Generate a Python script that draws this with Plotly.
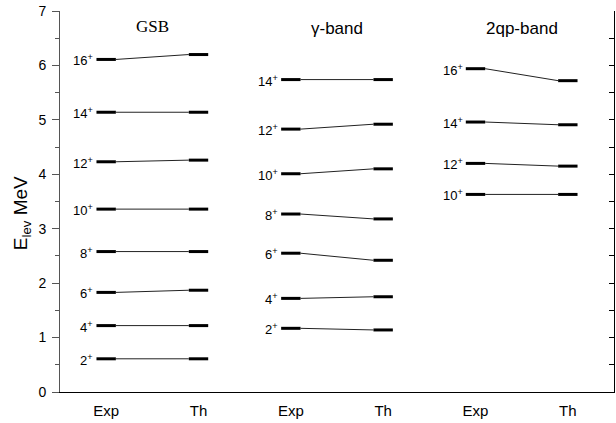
import plotly.graph_objects as go

# ---- data (MeV) ----
spins_gsb = ["2", "4", "6", "8", "10", "12", "14", "16"]
gsb_exp = [0.61, 1.22, 1.83, 2.58, 3.36, 4.23, 5.14, 6.11]
gsb_th = [0.61, 1.22, 1.87, 2.58, 3.36, 4.26, 5.14, 6.20]

spins_gam = ["2", "4", "6", "8", "10", "12", "14"]
gam_exp = [1.17, 1.72, 2.55, 3.27, 4.01, 4.83, 5.74]
gam_th = [1.14, 1.75, 2.42, 3.18, 4.10, 4.92, 5.74]

spins_qp = ["10", "12", "14", "16"]
qp_exp = [3.63, 4.20, 4.96, 5.94]
qp_th = [3.63, 4.15, 4.91, 5.72]

band_names = ["GSB", "γ-band", "2qp-band"]
x_labels = ["Exp", "Th", "Exp", "Th", "Exp", "Th"]

bands = [
    (1, spins_gsb, gsb_exp, gsb_th),
    (3, spins_gam, gam_exp, gam_th),
    (5, spins_qp, qp_exp, qp_th),
]

HW = 0.105  # half width of level bars

fig = go.Figure()
ann = []
for (xe, spins, ex, th) in bands:
    xt = xe + 1
    bx, by, cx, cy = [], [], [], []
    for s, e, t in zip(spins, ex, th):
        bx += [xe - HW, xe + HW, None, xt - HW, xt + HW, None]
        by += [e, e, None, t, t, None]
        cx += [xe + HW, xt - HW, None]
        cy += [e, t, None]
        ann.append(dict(x=xe - HW, y=e, xref="x", yref="y", text=f"{s}<sup>+</sup>",
                        showarrow=False, xanchor="right", yanchor="middle", xshift=-1, yshift=-1,
                        font=dict(family="Liberation Sans, Arial", size=13, color="black")))
    fig.add_trace(go.Scatter(x=cx, y=cy, mode="lines", line=dict(color="#222", width=1),
                             hoverinfo="skip", showlegend=False))
    fig.add_trace(go.Scatter(x=bx, y=by, mode="lines", line=dict(color="black", width=3),
                             hoverinfo="skip", showlegend=False))

# invisible trace for right axis
fig.add_trace(go.Scatter(x=[1], y=[0], yaxis="y2", mode="markers", marker=dict(opacity=0),
                         hoverinfo="skip", showlegend=False))

# band titles
title_pos = [(1.5, 6.72, "Liberation Serif, Times New Roman", 17),
             (3.5, 6.68, "Liberation Sans, Arial", 17),
             (5.5, 6.68, "Liberation Sans, Arial", 17)]
for name, (x, y, fam, sz) in zip(band_names, title_pos):
    ann.append(dict(x=x, y=y, xref="x", yref="y", text=name, showarrow=False,
                    xanchor="center", yanchor="middle",
                    font=dict(family=fam, size=sz, color="black")))

# y-axis title
ann.append(dict(x=-0.068, y=0.47, xref="paper", yref="paper", text="E<sub>lev</sub> MeV",
                showarrow=False, textangle=-90, xanchor="center", yanchor="middle",
                font=dict(family="Liberation Sans, Arial", size=19, color="black")))

fig.update_layout(
    width=616, height=423,
    margin=dict(l=60, r=2, t=11, b=31),
    paper_bgcolor="white", plot_bgcolor="white",
    annotations=ann,
    xaxis=dict(range=[0.5, 6.5], tickvals=[1, 2, 3, 4, 5, 6], ticktext=x_labels,
               showline=True, linecolor="black", linewidth=1, ticks="", showgrid=False,
               ticklabelstandoff=5,
               zeroline=False, tickfont=dict(family="Liberation Sans, Arial", size=15, color="black")),
    yaxis=dict(range=[0, 7], dtick=1, showline=True, linecolor="#555", linewidth=1,
               ticks="outside", ticklen=7, tickcolor="#555", showgrid=False, zeroline=False,
               ticklabelstandoff=3,
               tickfont=dict(family="Liberation Sans, Arial", size=14, color="black"),
               minor=dict(dtick=0.5, ticks="outside", ticklen=4, tickcolor="#555")),
    yaxis2=dict(range=[0, 7], overlaying="y", side="right", dtick=0.5, showline=True,
                linecolor="black", linewidth=1, ticks="inside", ticklen=5, tickcolor="black",
                showticklabels=False, showgrid=False, zeroline=False),
)

fig.write_html("out.html")
